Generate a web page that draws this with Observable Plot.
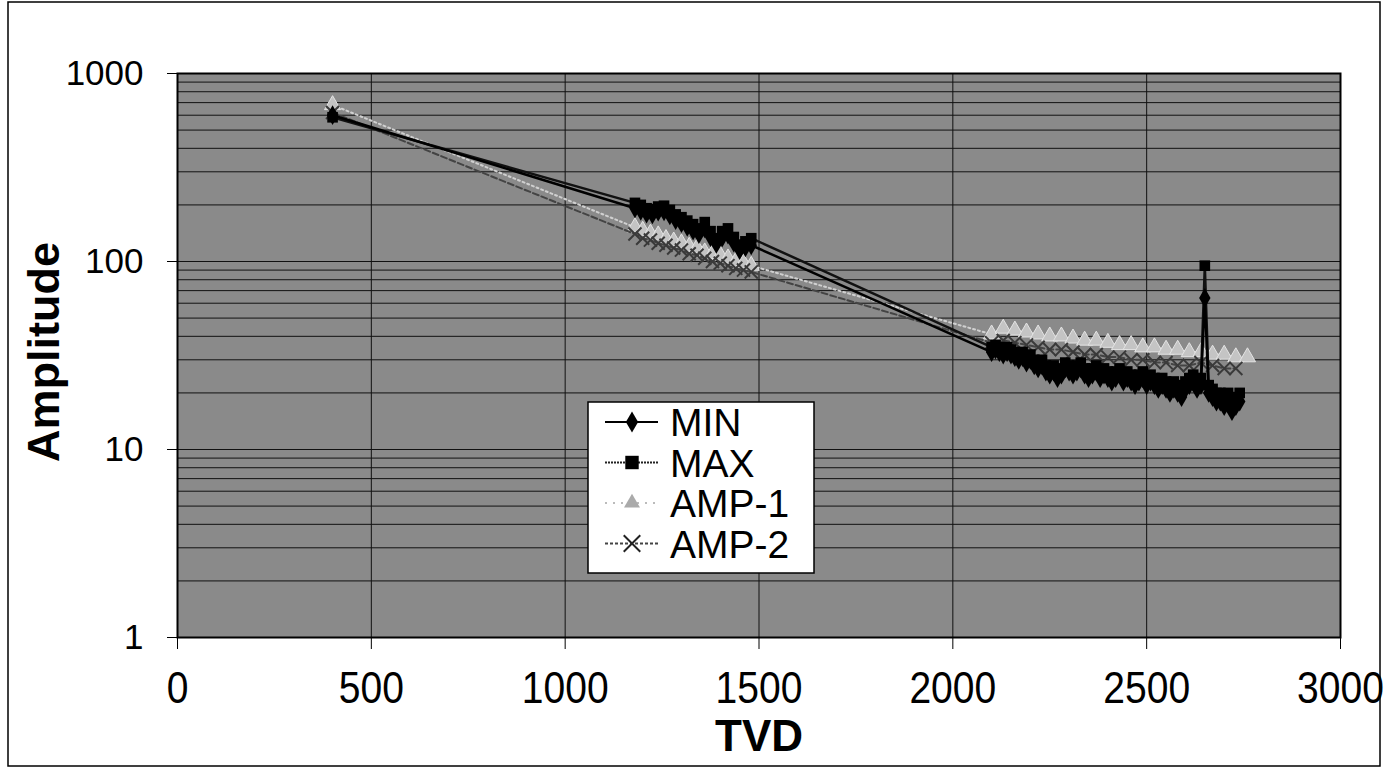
<!DOCTYPE html>
<html>
<head>
<meta charset="utf-8">
<script src="https://cdn.jsdelivr.net/npm/d3@7"></script>
<script src="https://cdn.jsdelivr.net/npm/@observablehq/plot@0.6"></script>
<style>
  html, body { margin: 0; padding: 0; background: white; }
  #chart { width: 1388px; height: 769px; }
</style>
</head>
<body>
<div id="chart"></div>
<script>
// ---- data ----
const tvdMinMax = [400,
  1180,1195,1210,1225,1240,1255,1270,1285,1300,1315,1330,1345,1360,1375,1390,1405,1420,1435,1450,1465,1480,
  2100,2110,2120,2130,2140,2150,2160,2170,2180,2190,2200,2210,2220,2230,2240,2250,2260,2270,2280,2290,
  2300,2310,2320,2330,2340,2350,2360,2370,2380,2390,2400,2410,2420,2430,2440,2450,2460,2470,2480,2490,
  2500,2510,2520,2530,2540,2550,2560,2570,2580,2590,2600,2610,2620,2630,2640,2650,2660,2670,2680,2690,
  2700,2710,2720,2730,2740];
const minValues = [600,
  192,186,180,178,184,185,176,166,160,153,146,140,150,135,124,134,139,126,115,119,122,
  33,34,33,32,33,32,31,30,31,29,30,28,27,28,26,25,26,24,25,27,
  26,25,26,27,25,24,25,26,24,25,24,23,24,25,23,24,23,22,23,24,
  22,23,22,21,22,21,20,21,20,19,21,22,23,21,22,64,20,19,18,18,
  17,18,16,17,18];
const maxValues = [585,
  205,200,192,190,196,198,188,178,172,165,158,150,162,145,133,145,150,135,123,128,133,
  35,36,35,34,35,34,33,32,33,31,32,30,29,30,28,27,28,26,27,29,
  28,27,28,29,27,26,27,28,26,27,26,25,26,27,25,26,25,24,25,26,
  24,25,24,23,24,23,22,23,22,21,23,24,25,23,24,95,22,21,20,20,
  19,20,18,19,20];
const tvdAmp1 = [400,
  1180,1200,1220,1240,1260,1280,1300,1320,1340,1360,1380,1400,1420,1440,1460,1480,
  2100,2130,2160,2190,2220,2250,2280,2310,2340,2370,2400,2430,2460,2490,2520,2550,2580,2610,2640,2670,2700,2730,2760];
const amp1Values = [680,
  152,146,141,138,132,128,125,120,118,112,110,108,104,100,98,95,
  41,44,43,42,41,40,40,39,38,38,37,36,36,35,35,34,34,33,33,32,32,31,31];
const tvdAmp2 = [400,
  1180,1200,1220,1240,1260,1280,1300,1320,1340,1360,1380,1400,1420,1440,1460,1480,
  2100,2130,2160,2190,2220,2250,2280,2310,2340,2370,2400,2430,2460,2490,2520,2550,2580,2610,2640,2670,2700,2730];
const amp2Values = [620,
  140,133,130,125,122,118,115,110,108,104,100,98,95,92,90,88,
  37,38,37,36,35,34,34,33,32,32,31,31,30,30,29,29,28,28,29,28,27,27];
const xTicks = [0,500,1000,1500,2000,2500,3000];
const yTicks = [1,10,100,1000];
const yGridLines = [1,2,3,4,5,6,7,8,9,10,20,30,40,50,60,70,80,90,100,200,300,400,500,600,700,800,900,1000];
const seriesNames = ["MIN","MAX","AMP-1","AMP-2"];

const rows = (xs, ys, name) => xs.map((x, i) => ({tvd: x, amp: ys[i], series: name}));
const dMin = rows(tvdMinMax, minValues, "MIN");
const dMax = rows(tvdMinMax, maxValues, "MAX");
const dA1 = rows(tvdAmp1, amp1Values, "AMP-1");
const dA2 = rows(tvdAmp2, amp2Values, "AMP-2");

const FONT = "'Liberation Sans', Arial, Helvetica, sans-serif";

const svg = Plot.plot({
  width: 1388, height: 769,
  marginLeft: 177, marginRight: 48, marginTop: 73, marginBottom: 132,
  style: {fontFamily: FONT, background: "white", color: "black", overflow: "visible"},
  x: {domain: [0, 3000]},
  y: {type: "log", domain: [1, 1000]},
  marks: [
    Plot.frame({fill: "#8a8a8a", stroke: null}),
    Plot.ruleY(yGridLines, {stroke: "#111", strokeWidth: 1}),
    Plot.ruleX(xTicks, {stroke: "#111", strokeWidth: 1}),
    // AMP-1
    Plot.line(dA1, {x: "tvd", y: "amp", stroke: "#d0d0d0", strokeWidth: 2, strokeDasharray: "2,3"}),
    Plot.dot(dA1, {x: "tvd", y: "amp", symbol: "triangle", r: 6, fill: "#c4c4c4", stroke: "#e4e4e4", strokeWidth: 1}),
    // AMP-2
    Plot.line(dA2, {x: "tvd", y: "amp", stroke: "#444", strokeWidth: 2, strokeDasharray: "6,3"}),
    Plot.dot(dA2, {x: "tvd", y: "amp", symbol: "times", r: 6, stroke: "#3a3a3a", strokeWidth: 2}),
    // MAX
    Plot.line(dMax, {x: "tvd", y: "amp", stroke: "#111", strokeWidth: 2.5}),
    Plot.dot(dMax, {x: "tvd", y: "amp", symbol: "square", r: 6, fill: "#000"}),
    // MIN
    Plot.line(dMin, {x: "tvd", y: "amp", stroke: "#000", strokeWidth: 2.5}),
    Plot.dot(dMin, {x: "tvd", y: "amp", symbol: "diamond", r: 6, fill: "#000"}),
    Plot.frame({stroke: "black", strokeWidth: 2}),
    Plot.axisX({ticks: xTicks, tickSize: 12, tickPadding: 22, fontSize: 42, label: null, tickFormat: d => String(d)}),
    Plot.axisY({ticks: yTicks, tickSize: 10, tickPadding: 24, fontSize: 35, label: null, tickFormat: d => String(d)})
  ]
});

document.getElementById("chart").appendChild(svg);
const s = d3.select(svg);

// x tick labels in the reference are a little condensed
s.selectAll('g[aria-label="x-axis tick label"] text').each(function () {
  const t = d3.select(this);
  t.attr("transform", (t.attr("transform") || "") + " scale(0.93,1.06)");
});

// outer border
s.append("rect").attr("x", 8).attr("y", 2).attr("width", 1372).attr("height", 764)
  .attr("fill", "none").attr("stroke", "black").attr("stroke-width", 1.5);

// axis titles
s.append("text").attr("transform", "translate(59,352) rotate(-90)")
  .attr("text-anchor", "middle").attr("font-family", FONT).attr("font-weight", "bold")
  .attr("font-size", 45).text("Amplitude");
s.append("text").attr("x", 759).attr("y", 751)
  .attr("text-anchor", "middle").attr("font-family", FONT).attr("font-weight", "bold")
  .attr("font-size", 44).text("TVD");

// legend
const lg = s.append("g");
lg.append("rect").attr("x", 588).attr("y", 402).attr("width", 226).attr("height", 171)
  .attr("fill", "white").attr("stroke", "black").attr("stroke-width", 1.5);
const legendStyle = [
  {stroke: "#000", dash: null, sym: d3.symbolDiamond, fill: "#000", sstroke: "none", size: 130},
  {stroke: "#222", dash: "2,1", sym: d3.symbolSquare, fill: "#000", sstroke: "none", size: 180},
  {stroke: "#bbb", dash: "2,6", sym: d3.symbolTriangle, fill: "#aaa", sstroke: "none", size: 110},
  {stroke: "#444", dash: "3,2", sym: d3.symbolX, fill: "none", sstroke: "#222", size: 180}
];
seriesNames.forEach((name, i) => {
  const cy = 422 + i * 40.5;
  const st = legendStyle[i];
  lg.append("line").attr("x1", 605).attr("x2", 658).attr("y1", cy).attr("y2", cy)
    .attr("stroke", st.stroke).attr("stroke-width", 2).attr("stroke-dasharray", st.dash);
  lg.append("path").attr("d", d3.symbol(st.sym, st.size)())
    .attr("transform", `translate(632,${cy})`).attr("fill", st.fill)
    .attr("stroke", st.sstroke).attr("stroke-width", 2);
  lg.append("text").attr("x", 670).attr("y", cy + 14).attr("text-anchor", "start")
    .attr("font-family", FONT).attr("font-size", 39).text(name);
});
</script>
</body>
</html>
